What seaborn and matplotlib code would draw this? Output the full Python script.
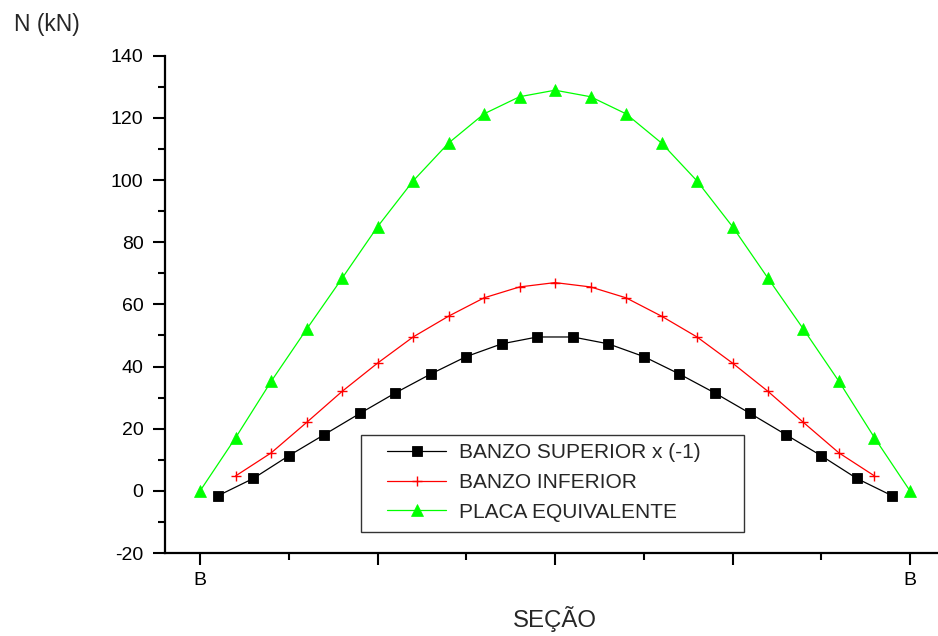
import matplotlib
matplotlib.use("Agg")
import matplotlib.pyplot as plt
import matplotlib.patches as mpatches
from matplotlib.ticker import MultipleLocator, FixedLocator
import seaborn as sns
import numpy as np
import pandas as pd

sns.set_theme(style="white")
plt.rcParams['font.family'] = ['Liberation Sans', 'DejaVu Sans']
plt.rcParams['axes.unicode_minus'] = False

# ---- data ----
x_sup = [0.5, 1.5, 2.5, 3.5, 4.5, 5.5, 6.5, 7.5, 8.5, 9.5,
         10.5, 11.5, 12.5, 13.5, 14.5, 15.5, 16.5, 17.5, 18.5, 19.5]
y_sup = [-1.6, 4.0, 11.3, 18.1, 24.9, 31.5, 37.6, 43.2, 47.3, 49.5,
         49.5, 47.3, 43.2, 37.6, 31.5, 24.9, 18.1, 11.3, 4.0, -1.6]
x_inf = [1, 2, 3, 4, 5, 6, 7, 8, 9, 10, 11, 12, 13, 14, 15, 16, 17, 18, 19]
y_inf = [4.8, 12.2, 22.0, 32.0, 41.1, 49.5, 56.2, 62.1, 65.6, 67.0,
         65.6, 62.1, 56.2, 49.5, 41.1, 32.0, 22.0, 12.2, 4.8]
x_pla = [0, 1, 2, 3, 4, 5, 6, 7, 8, 9, 10, 11, 12, 13, 14, 15, 16, 17, 18, 19, 20]
y_pla = [0.0, 17.1, 35.2, 52.0, 68.4, 85.0, 99.7, 111.9, 121.3, 126.8, 128.9,
         126.8, 121.3, 111.9, 99.7, 85.0, 68.4, 52.0, 35.2, 17.1, 0.0]
labels = ["BANZO SUPERIOR x (-1)", "BANZO INFERIOR", "PLACA EQUIVALENTE"]
x_major = [0, 5, 10, 15, 20]
x_tick_labels = ["B", "", "", "", "B"]
x_minor = [2.5, 7.5, 12.5, 17.5]
y_ticks = [-20, 0, 20, 40, 60, 80, 100, 120, 140]

W, H = 938, 636
fig = plt.figure(figsize=(W / 100, H / 100), dpi=100)
ax = fig.add_axes([165 / W, 1 - 553 / H, (W - 165) / W, (553 - 55.7) / H])

df_sup = pd.DataFrame({"x": x_sup, "y": y_sup})
df_inf = pd.DataFrame({"x": x_inf, "y": y_inf})
df_pla = pd.DataFrame({"x": x_pla, "y": y_pla})

sns.lineplot(data=df_sup, x="x", y="y", ax=ax, color="black", lw=0.9,
             marker="s", markersize=6.6, markeredgewidth=0.6,
             markeredgecolor="black", label=labels[0])
sns.lineplot(data=df_inf, x="x", y="y", ax=ax, color="#ff0000", lw=0.9,
             marker="+", markersize=7.5, markeredgewidth=1.0,
             markeredgecolor="#ff0000", label=labels[1])
sns.lineplot(data=df_pla, x="x", y="y", ax=ax, color="#00ff00", lw=0.9,
             marker="^", markersize=8, markeredgewidth=0.5,
             markeredgecolor="#00ff00", label=labels[2])

ax.set_xlim(-0.99, 20.79)
ax.set_ylim(-20, 140)
for s in ["top", "right"]:
    ax.spines[s].set_visible(False)
for s in ["left", "bottom"]:
    ax.spines[s].set_linewidth(1.6)
    ax.spines[s].set_color("black")

ax.xaxis.set_major_locator(FixedLocator(x_major))
ax.set_xticklabels(x_tick_labels)
ax.xaxis.set_minor_locator(FixedLocator(x_minor))
ax.yaxis.set_major_locator(FixedLocator(y_ticks))
ax.yaxis.set_minor_locator(MultipleLocator(10))
ax.tick_params(axis="both", which="major", direction="out", length=8.5,
               width=1.5, labelsize=14, color="black", labelcolor="black")
ax.tick_params(axis="both", which="minor", direction="out", length=5,
               width=1.5, color="black")
ax.tick_params(axis="x", which="major", pad=5)
ax.tick_params(axis="y", which="major", pad=7)
ax.tick_params(left=True, bottom=True, which="both")
ax.set_xlabel("")
ax.set_ylabel("")

fig.text(47 / W, 1 - 25 / H, "N (kN)", fontsize=16.5, ha="center", va="center")
fig.text(554.5 / W, 1 - 619 / H, "SEÇÃO", fontsize=17.3, ha="center", va="center")

# legend
leg = ax.legend(loc="upper left", bbox_to_anchor=(387 / W, 1 - 443 / H),
                bbox_transform=fig.transFigure, frameon=False, fontsize=15,
                handlelength=2.85, handletextpad=0.6, labelspacing=0.52,
                borderpad=0.0, borderaxespad=0.0)
leg.set_zorder(6)
rect = mpatches.Rectangle((361 / W, 1 - 532 / H), (744 - 361) / W, (532 - 435) / H,
                          transform=fig.transFigure, fill=True, facecolor="white",
                          edgecolor="#333333", linewidth=1.0, zorder=5,
                          clip_on=False)
ax.add_patch(rect)

fig.savefig("out.png", dpi=100)
